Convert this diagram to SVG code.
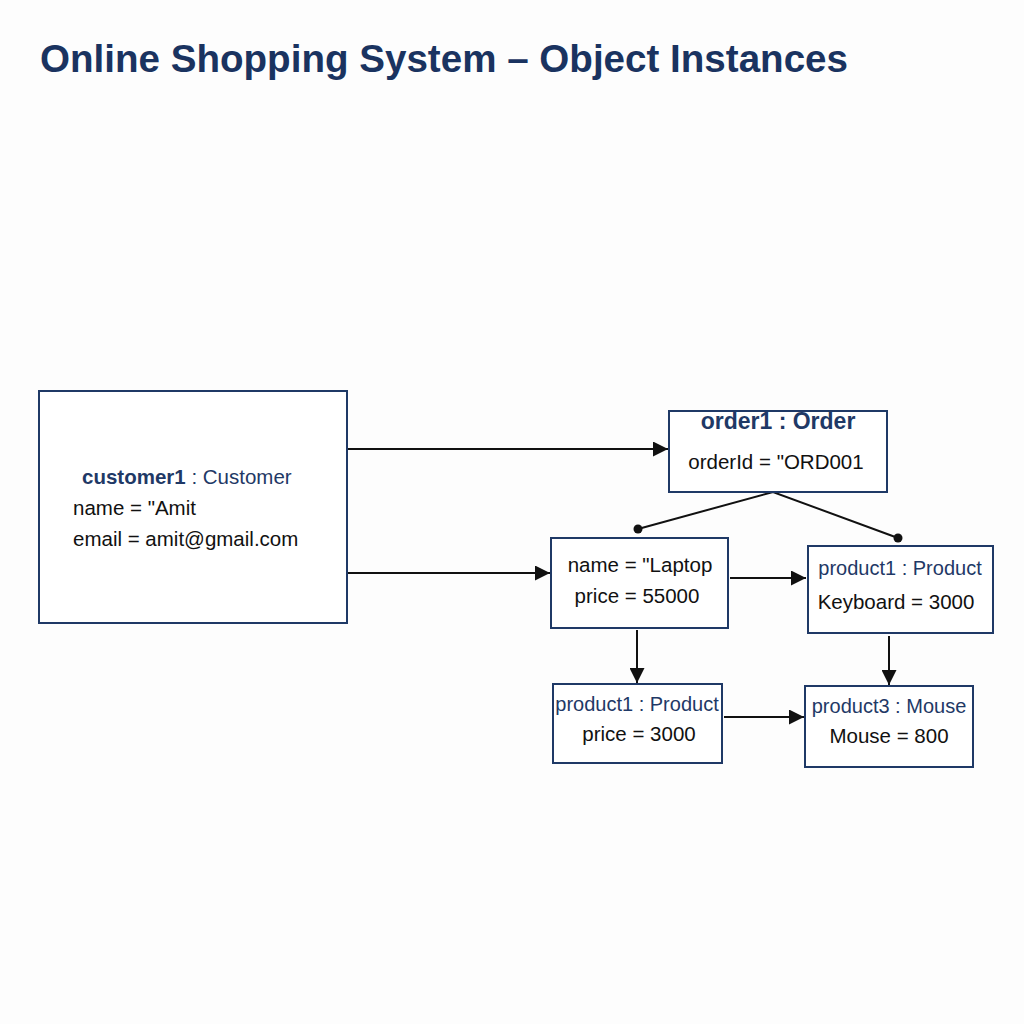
<svg xmlns="http://www.w3.org/2000/svg" width="1024" height="1024" viewBox="0 0 1024 1024">
<defs>
<style>
.box{fill:#fff;stroke:#1f3966;stroke-width:2}
.t{font-family:"Liberation Sans",Arial,sans-serif;font-size:20.5px;fill:#111}
.n{font-family:"Liberation Sans",Arial,sans-serif;font-size:20px;fill:#1f3966}
.b{font-weight:bold}
.c{stroke:#111;stroke-width:2;fill:none}
</style>
<marker id="arr" viewBox="0 0 10 10" refX="10" refY="5" markerWidth="16" markerHeight="15" markerUnits="userSpaceOnUse" orient="auto">
<path d="M0,0 L10,5 L0,10 Z" fill="#111"/>
</marker>
</defs>
<rect width="1024" height="1024" fill="#fdfdfd"/>
<text x="40" y="72" font-family="Liberation Sans,Arial,sans-serif" font-size="38" font-weight="bold" fill="#1a3360" textLength="808" lengthAdjust="spacingAndGlyphs">Online Shopping System – Object Instances</text>

<g id="connectors">
<line class="c" x1="347" y1="449" x2="668" y2="449" marker-end="url(#arr)"/>
<line class="c" x1="347" y1="573" x2="550" y2="573" marker-end="url(#arr)"/>
<polyline class="c" points="638,529 773,492 898,538"/>
<circle cx="638" cy="529" r="4.5" fill="#111"/>
<circle cx="898" cy="538" r="4.5" fill="#111"/>
<line class="c" x1="730" y1="578" x2="806" y2="578" marker-end="url(#arr)"/>
<line class="c" x1="637" y1="630" x2="637" y2="683" marker-end="url(#arr)"/>
<line class="c" x1="889" y1="636" x2="889" y2="685" marker-end="url(#arr)"/>
<line class="c" x1="724" y1="717" x2="804" y2="717" marker-end="url(#arr)"/>
</g>

<g id="customer1">
<rect class="box" x="39" y="391" width="308" height="232"/>
<text x="82" y="484" class="n" style="font-size:20.5px"><tspan class="b">customer1</tspan> : Customer</text>
<text x="73" y="515" class="t">name = "Amit</text>
<text x="73" y="546" class="t">email = amit@gmail.com</text>
</g>

<g id="order1">
<rect class="box" x="669" y="411" width="218" height="81"/>
<text x="778" y="429" class="n b" text-anchor="middle" style="font-size:23px">order1 : Order</text>
<text x="776" y="469" class="t" text-anchor="middle">orderId = "ORD001</text>
</g>

<g id="laptop">
<rect class="box" x="551" y="538" width="177" height="90"/>
<text x="640" y="572" class="t" text-anchor="middle">name = "Laptop</text>
<text x="637" y="603" class="t" text-anchor="middle">price = 55000</text>
</g>

<g id="product1-keyboard">
<rect class="box" x="808" y="546" width="185" height="87"/>
<text x="900" y="575" class="n" text-anchor="middle">product1 : Product</text>
<text x="896" y="609" class="t" text-anchor="middle">Keyboard = 3000</text>
</g>

<g id="product1-price">
<rect class="box" x="553" y="684" width="169" height="79"/>
<text x="637" y="711" class="n" text-anchor="middle">product1 : Product</text>
<text x="639" y="741" class="t" text-anchor="middle">price = 3000</text>
</g>

<g id="product3">
<rect class="box" x="805" y="686" width="168" height="81"/>
<text x="889" y="713" class="n" text-anchor="middle">product3 : Mouse</text>
<text x="889" y="743" class="t" text-anchor="middle">Mouse = 800</text>
</g>
</svg>
